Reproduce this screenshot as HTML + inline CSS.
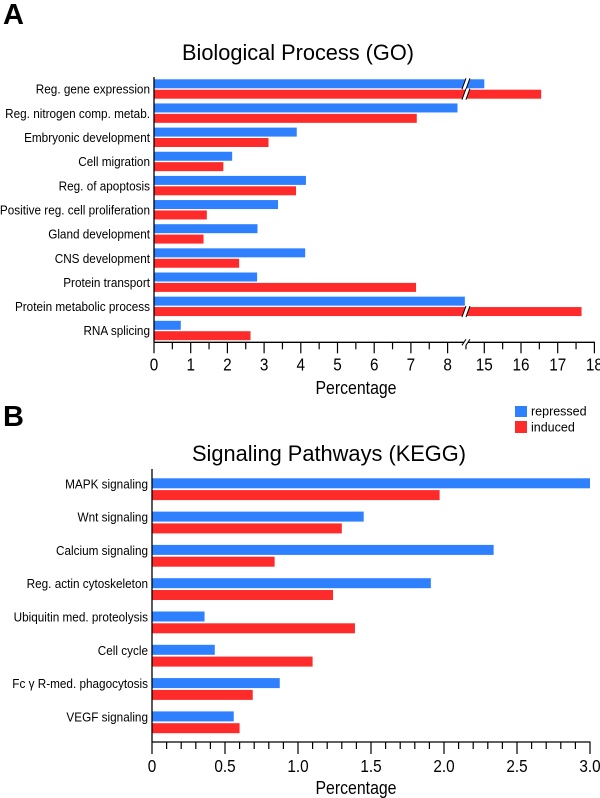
<!DOCTYPE html>
<html><head><meta charset="utf-8"><style>
html,body{margin:0;padding:0;background:#fff;}
svg{display:block;font-family:"Liberation Sans",Arial,sans-serif;}
</style></head><body>
<svg id="fig" width="600" height="798" viewBox="0 0 600 798">
<text x="3" y="24" font-size="29" font-weight="bold">A</text>
<text x="3" y="426" font-size="29" font-weight="bold">B</text>
<text x="298" y="60" font-size="22" text-anchor="middle" textLength="232" lengthAdjust="spacingAndGlyphs">Biological Process (GO)</text>
<text x="329" y="461" font-size="22" text-anchor="middle" textLength="274" lengthAdjust="spacingAndGlyphs">Signaling Pathways (KEGG)</text>
<text x="356" y="394" font-size="18" text-anchor="middle" textLength="81" lengthAdjust="spacingAndGlyphs">Percentage</text>
<text x="356" y="794" font-size="18" text-anchor="middle" textLength="81" lengthAdjust="spacingAndGlyphs">Percentage</text>
<g>
<rect x="515" y="406" width="12" height="11" fill="#2f80ff"/>
<text x="531" y="415.5" font-size="12.5">repressed</text>
<rect x="515" y="421" width="12" height="12" fill="#ff2b2b"/>
<text x="531" y="431.5" font-size="12.5">induced</text>
</g>
<g id="ga"></g><g id="gb"></g>
</svg>
<script>
const goCategories=["Reg. gene expression","Reg. nitrogen comp. metab.","Embryonic development","Cell migration","Reg. of apoptosis","Positive reg. cell proliferation","Gland development","CNS development","Protein transport","Protein metabolic process","RNA splicing"];
const goRepressed=[15.0,8.27,3.89,2.13,4.14,3.38,2.82,4.12,2.81,8.47,0.73];
const goInduced=[16.55,7.16,3.12,1.89,3.87,1.44,1.35,2.32,7.14,17.65,2.63];
const goTickLabels=["0","1","2","3","4","5","6","7","8","15","16","17","18"];
const goTickValues=[0,1,2,3,4,5,6,7,8,15,16,17,18];
const keggCategories=["MAPK signaling","Wnt signaling","Calcium signaling","Reg. actin cytoskeleton","Ubiquitin med. proteolysis","Cell cycle","Fc \u03b3 R-med. phagocytosis","VEGF signaling"];
const keggRepressed=[3.0,1.45,2.34,1.91,0.36,0.43,0.875,0.56];
const keggInduced=[1.97,1.30,0.84,1.24,1.39,1.10,0.69,0.60];
const keggTickLabels=["0","0.5","1.0","1.5","2.0","2.5","3.0"];
const keggTickValues=[0,0.5,1,1.5,2,2.5,3];

const NS="http://www.w3.org/2000/svg";
const BLUE="#2f80ff",RED="#ff2b2b";
function mk(parent,tag,attrs){const e=document.createElementNS(NS,tag);for(const k in attrs)e.setAttribute(k,attrs[k]);parent.appendChild(e);return e;}

// ---- Chart A ----
const ga=document.getElementById('ga');
const ax0=154,aU=36.7,BRK_LO=8.5,BRK_HI=14.5;
function xA(v){return v<=BRK_LO?ax0+v*aU:ax0+(v-(BRK_HI-BRK_LO))*aU;}
const aTop=77,aAxisY=342.3,aRow=24.15,aBar0=79.3,aBarH=9,aGap=10.4;
function breakMark(parent,x,y1,y2){
  const w=mk(parent,'polygon',{points:`${x-3},${y2} ${x+1},${y1} ${x+5},${y1} ${x+1},${y2}`,fill:'#fff'});
  
  
  const l1=mk(parent,'line',{x1:x-3,y1:y2,x2:x+1,y2:y1,stroke:'#000','stroke-width':1});
  
  
  const l2=mk(parent,'line',{x1:x+1,y1:y2,x2:x+5,y2:y1,stroke:'#000','stroke-width':1});
  
  
}
goCategories.forEach((c,i)=>{
  const yb=aBar0+i*aRow;
  const r1=mk(ga,'rect',{x:ax0,y:yb,width:xA(goRepressed[i])-ax0,height:aBarH,fill:BLUE});
  
  
  if(goRepressed[i]>BRK_LO) breakMark(ga,xA(BRK_LO)-1,yb-1,yb+aBarH+1);
  const r2=mk(ga,'rect',{x:ax0,y:yb+aGap,width:xA(goInduced[i])-ax0,height:aBarH,fill:RED});
  
  
  if(goInduced[i]>BRK_LO) breakMark(ga,xA(BRK_LO)-1,yb+aGap-1,yb+aGap+aBarH+1);
  const t=mk(ga,'text',{transform:`translate(150,${yb+aGap+4}) scale(0.89,1)`,'font-size':13.2,'text-anchor':'end'});
  t.textContent=c;
  
  
});
{
  const ya=mk(ga,'line',{x1:ax0,y1:aTop,x2:ax0,y2:aAxisY,stroke:'#000','stroke-width':1.3});
  
  
  const xa=mk(ga,'line',{x1:ax0,y1:aAxisY,x2:xA(18)+0.5,y2:aAxisY,stroke:'#000','stroke-width':1.3});
  
  
  const minors=[];for(let v=0;v<=8.5001;v+=0.5)minors.push(v);for(let v=15;v<=18.001;v+=0.5)minors.push(v);
  minors.forEach(v=>{const maj=Math.abs(v-Math.round(v))<1e-6;
    const tk=mk(ga,'line',{x1:xA(v),y1:aAxisY,x2:xA(v),y2:aAxisY+(maj?11:7),stroke:'#000','stroke-width':1.2});
    
    });
  breakMark(ga,xA(BRK_LO)-1,aAxisY-3,aAxisY+3);
  goTickValues.forEach((v,i)=>{const t=mk(ga,'text',{transform:`translate(${xA(v)},${aAxisY+28}) scale(0.85,1)`,'font-size':18,'text-anchor':'middle'});
    t.textContent=goTickLabels[i];
    
    });
}

// ---- Chart B ----
const gb=document.getElementById('gb');
const bx0=152,bU=146;
function xB(v){return bx0+v*bU;}
const bTop=469,bAxisY=742,bRow=33.3,bBar0=478.3,bBarH=10,bGap=11.8;
keggCategories.forEach((c,i)=>{
  const yb=bBar0+i*bRow;
  const r1=mk(gb,'rect',{x:bx0,y:yb,width:xB(keggRepressed[i])-bx0,height:bBarH,fill:BLUE});
  
  
  const r2=mk(gb,'rect',{x:bx0,y:yb+bGap,width:xB(keggInduced[i])-bx0,height:bBarH,fill:RED});
  
  
  const t=mk(gb,'text',{transform:`translate(148,${yb+10}) scale(0.89,1)`,'font-size':13.2,'text-anchor':'end'});
  t.textContent=c;
  
  
});
{
  const ya=mk(gb,'line',{x1:bx0,y1:bTop,x2:bx0,y2:bAxisY,stroke:'#000','stroke-width':1.3});
  
  
  const xa=mk(gb,'line',{x1:bx0,y1:bAxisY,x2:xB(3)+0.5,y2:bAxisY,stroke:'#000','stroke-width':1.3});
  
  
  for(let k=0;k<=30;k++){const v=k/10;const maj=k%5===0;
    const tk=mk(gb,'line',{x1:xB(v),y1:bAxisY,x2:xB(v),y2:bAxisY+(maj?12:7),stroke:'#000','stroke-width':1.2});
    
    }
  keggTickValues.forEach((v,i)=>{const t=mk(gb,'text',{transform:`translate(${xB(v)},${bAxisY+30}) scale(0.85,1)`,'font-size':18,'text-anchor':'middle'});
    t.textContent=keggTickLabels[i];
    
    });
}
</script>
</body></html>
